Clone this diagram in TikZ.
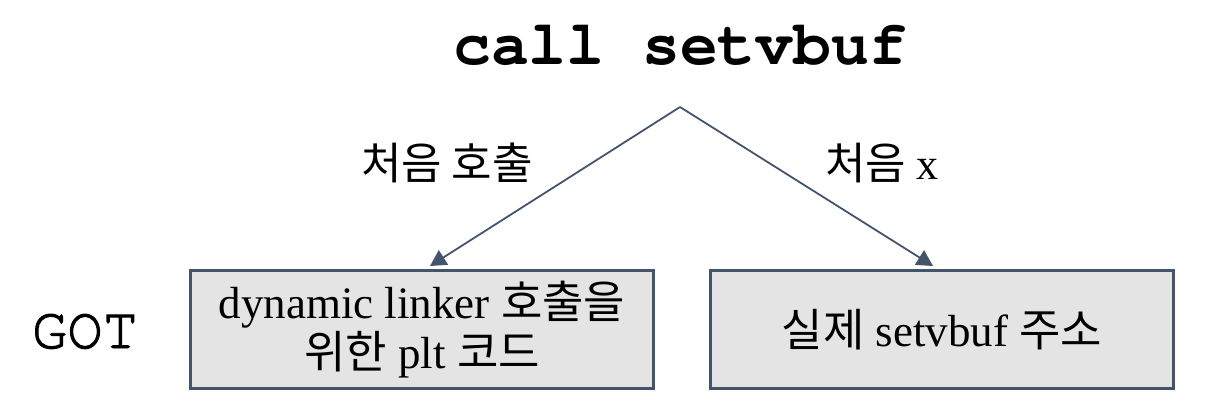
\documentclass[tikz,border=0pt]{standalone}
\usepackage{fontspec}
\usetikzlibrary{arrows.meta}
\setmainfont{Liberation Serif}
\setmonofont{TeX Gyre Cursor}
\newfontfamily\krfont{Noto Sans CJK KR}
\newfontfamily\gotfont[FakeBold=1.6]{TeX Gyre Cursor}
\newcommand{\kr}[1]{{\krfont #1}}
\definecolor{edgeblue}{HTML}{44546A}
\definecolor{boxgray}{HTML}{E4E4E4}
\tikzset{
  gotbox/.style={draw=edgeblue, line width=3pt, fill=boxgray,
    minimum width=463pt, minimum height=118pt, align=center,
    font=\fontsize{45}{50}\selectfont},
  branch/.style={draw=edgeblue, line width=1.8pt,
    -{Triangle[length=16pt,width=17pt]}},
  edgelabel/.style={font=\fontsize{44}{50}\selectfont}
}

\begin{document}
\begin{tikzpicture}[x=1pt,y=1pt]
\useasboundingbox (0,0) rectangle (1208,416);
% title and table name
\node[anchor=base, font=\ttfamily\bfseries\fontsize{63}{70}\selectfont] (title) at (680,351) {call setvbuf};
\node[anchor=base, font=\gotfont\fontsize{59}{66}\selectfont] (got) at (85,68) {GOT};
% the two GOT entries
\node[gotbox] (first) at (422,86.5) {dynamic linker \kr{호출을}\\\kr{위한} plt \kr{코드}};
\node[gotbox] (later) at (942,86.5) {\kr{실제} setvbuf \kr{주소}};
% branches
\coordinate (top) at (680,309);
\draw[branch] (top) -- ([xshift=8pt,yshift=3pt]first.north);
\draw[branch] (top) -- ([xshift=-9pt,yshift=3pt]later.north);
\node[edgelabel] (firstcall) at (447,253) {\kr{처음 호출}};
\node[edgelabel] (notfirst) at (882,253) {\kr{처음} x};
\end{tikzpicture}
\end{document}
